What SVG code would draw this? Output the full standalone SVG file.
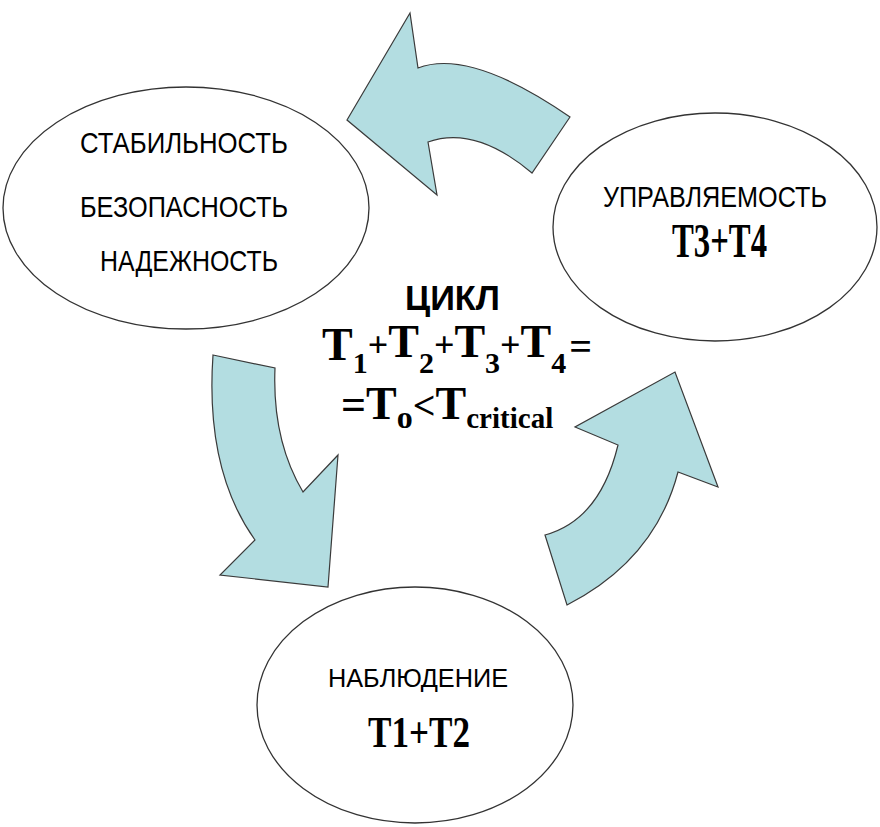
<svg xmlns="http://www.w3.org/2000/svg" width="880" height="827" viewBox="0 0 880 827">
<style>
.node ellipse{fill:#fff;stroke:#333;stroke-width:1.3}
.arrow{fill:#B3DDE1;stroke:#3a3a3a;stroke-width:1.2;stroke-linejoin:miter}
.sans{font-family:"Liberation Sans",Arial,sans-serif;fill:#000}
.serif{font-family:"Liberation Serif","Times New Roman",serif;font-weight:bold;fill:#000}
.sub{font-size:30px}
.op{font-size:36px}
</style>
<rect width="880" height="827" fill="#fff"/>
<g id="connectors">
<path class="arrow" d="M347,120 L410,13 L418,68 Q470,48 570,117 L532,173 Q475,125 428,142 L437,195 Z"/>
<path class="arrow" d="M213,355 L275,368 Q272,440 303,492 L338,455 L328,587 L220,575 L255,540 Q205,470 213,355 Z"/>
<path class="arrow" d="M545,535 L567,605 Q655,560 678,472 L718,487 L675,372 L575,427 L618,445 Q600,520 545,535 Z"/>
</g>
<g id="node-stability" class="node">
<ellipse cx="186" cy="208" rx="183" ry="121"/>
<text class="sans" x="80" y="153" font-size="30" textLength="208" lengthAdjust="spacingAndGlyphs">СТАБИЛЬНОСТЬ</text>
<text class="sans" x="80" y="217" font-size="30" textLength="208" lengthAdjust="spacingAndGlyphs">БЕЗОПАСНОСТЬ</text>
<text class="sans" x="100" y="271" font-size="30" textLength="178" lengthAdjust="spacingAndGlyphs">НАДЕЖНОСТЬ</text>
</g>
<g id="node-control" class="node">
<ellipse cx="715" cy="227" rx="162" ry="114"/>
<text class="sans" x="603" y="207" font-size="30" textLength="224" lengthAdjust="spacingAndGlyphs">УПРАВЛЯЕМОСТЬ</text>
<text class="serif" x="672" y="257" font-size="48" textLength="95" lengthAdjust="spacingAndGlyphs">T3+T4</text>
</g>
<g id="node-observation" class="node">
<ellipse cx="415" cy="705" rx="158" ry="118"/>
<text class="sans" x="328" y="687" font-size="26" textLength="180" lengthAdjust="spacingAndGlyphs">НАБЛЮДЕНИЕ</text>
<text class="serif" x="368" y="747" font-size="45" textLength="102" lengthAdjust="spacingAndGlyphs">T1+T2</text>
</g>
<g id="center-label">
<text class="sans" x="405" y="310" font-size="35" font-weight="bold" textLength="95" lengthAdjust="spacingAndGlyphs">ЦИКЛ</text>
<text class="serif" x="322" y="360" font-size="46">T<tspan class="sub" dy="13">1</tspan><tspan class="op" dy="-16">+</tspan>T<tspan class="sub" dy="16">2</tspan><tspan class="op" dy="-16">+</tspan>T<tspan class="sub" dy="16">3</tspan><tspan class="op" dy="-16">+</tspan>T<tspan class="sub" dy="16">4</tspan><tspan font-size="40" dx="3" dy="-13">=</tspan></text>
<text class="serif" x="341" y="419" font-size="46"><tspan font-size="44">=</tspan>T<tspan font-size="32" dy="9">o</tspan><tspan font-size="40" dy="-9">&lt;</tspan>T<tspan font-size="29" dy="9">critical</tspan></text>
</g>
</svg>
